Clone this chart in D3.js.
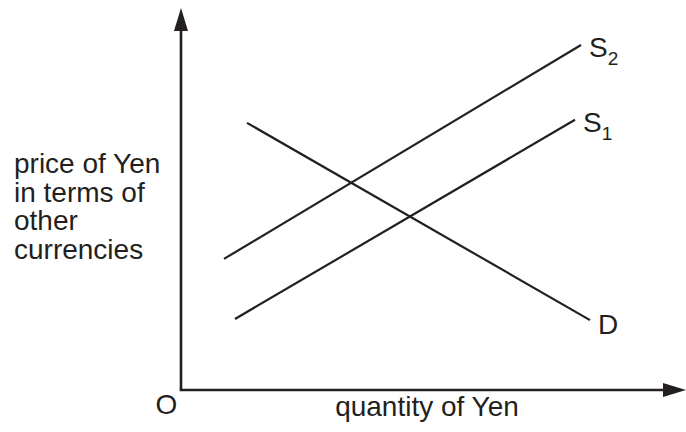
<!DOCTYPE html>
<html>
<head>
<meta charset="utf-8">
<style>
  body { margin: 0; background: #fff; }
  svg text { font-family: "Liberation Sans", Arial, sans-serif; fill: #231f20; }
</style>
</head>
<body>
<svg width="686" height="432"></svg>
<script src="https://d3js.org/d3.v7.min.js"></script>
<script>
// curves: [x, y] in chart units (quantity, price), 0..10
var demand = [[1.32, 7.03], [8.18, 1.84]];
var supply1 = [[1.08, 1.87], [7.88, 7.11]];
var supply2 = [[0.86, 3.45], [8.0, 9.08]];
var curveNames = ["D", "S", "S"];
var curveSubs = ["", "1", "2"];
var yLabelLines = ["price of Yen", "in terms of", "other", "currencies"];
var xLabel = "quantity of Yen";
var originLabel = "O";

var svg = d3.select("svg"),
    ink = "#231f20";

var x = d3.scaleLinear().domain([0, 10]).range([181, 681]);
var y = d3.scaleLinear().domain([0, 10]).range([390, 10]);

// axes with arrow heads
svg.append("line")
    .attr("x1", x(0)).attr("y1", y(0))
    .attr("x2", x(0)).attr("y2", 28)
    .attr("stroke", ink).attr("stroke-width", 2.6);
svg.append("path")
    .attr("d", "M" + (x(0) - 7) + ",31L" + x(0) + ",8L" + (x(0) + 7) + ",31Z")
    .attr("fill", ink);

svg.append("line")
    .attr("x1", x(0) - 1.3).attr("y1", y(0))
    .attr("x2", 666).attr("y2", y(0))
    .attr("stroke", ink).attr("stroke-width", 2.6);
svg.append("path")
    .attr("d", "M663," + (y(0) - 7) + "L686," + y(0) + "L663," + (y(0) + 7) + "Z")
    .attr("fill", ink);

var line = d3.line()
    .x(function(d) { return x(d[0]); })
    .y(function(d) { return y(d[1]); });

var curves = [demand, supply1, supply2];

svg.selectAll(".curve")
    .data(curves)
  .enter().append("path")
    .attr("class", "curve")
    .attr("d", line)
    .attr("fill", "none")
    .attr("stroke", ink)
    .attr("stroke-width", 2.2);

// curve labels at the right-hand ends
var labels = svg.selectAll(".clabel")
    .data(curves)
  .enter().append("text")
    .attr("class", "clabel")
    .attr("x", function(d) { return x(d[1][0]) + 8; })
    .attr("y", function(d, i) { return y(d[1][1]) + (i == 0 ? 14 : 12); })
    .style("font-size", "28px");

labels.append("tspan")
    .text(function(d, i) { return curveNames[i]; });
labels.append("tspan")
    .attr("dy", 8)
    .style("font-size", "19px")
    .text(function(d, i) { return curveSubs[i]; });

// axis titles
svg.append("text")
    .attr("x", 14)
    .attr("y", 173)
    .style("font-size", "28px")
  .selectAll("tspan")
    .data(yLabelLines)
  .enter().append("tspan")
    .attr("x", 14)
    .attr("dy", function(d, i) { return i == 0 ? 0 : 28.7; })
    .text(function(d) { return d; });

svg.append("text")
    .attr("x", 427)
    .attr("y", 416)
    .attr("text-anchor", "middle")
    .style("font-size", "28px")
    .text(xLabel);

svg.append("text")
    .attr("x", 166.5)
    .attr("y", 414)
    .attr("text-anchor", "middle")
    .style("font-size", "28px")
    .text(originLabel);
</script>
</body>
</html>
